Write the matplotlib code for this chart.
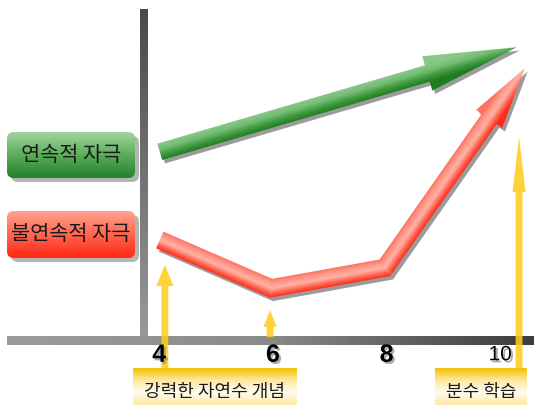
import numpy as np
import matplotlib.pyplot as plt
from matplotlib.patches import Polygon, FancyBboxPatch
from matplotlib.colors import LinearSegmentedColormap
import matplotlib.patheffects as pe

plt.rcParams['font.family'] = ['Noto Sans CJK KR', 'DejaVu Sans']

# ---- data ----
tick_vals = [4, 6, 8, 10]
tick_labels = ['4', '6', '8', '10']

green_x = [4.01, 10.29]
green_y = [3.31, 5.15]
green_label = '연속적 자극'

red_x = [4.01, 5.97, 7.97, 10.43]
red_y = [1.76, 0.91, 1.27, 4.78]
red_label = '불연속적 자극'

marker_x = [4.10, 5.95, 10.33]
marker_top = [1.32, 0.53, 3.57]
marker_bottom = [-0.53, 0.05, -0.53]

note_labels = ['강력한 자연수 개념', '분수 학습']

# ---- layout ----
S = 56.85  # px per unit
x_lo = 1.2
x_hi = x_lo + 534 / S
y_lo = -65 / S
y_hi = 340 / S

fig = plt.figure(figsize=(5.34, 4.05), dpi=100)
ax = fig.add_axes([0, 0, 1, 1])
ax.axis('off')


def grad_rect(x0, x1, y0, y1, colors, vertical=True, clip=None, z=1):
    g = np.linspace(0, 1, 256)
    img = g[:, None] if vertical else g[None, :]
    cmap = LinearSegmentedColormap.from_list('', colors)
    im = ax.imshow(img, cmap=cmap, extent=(x0, x1, y0, y1), origin='upper',
                   aspect='auto', zorder=z, interpolation='bilinear')
    if clip is not None:
        im.set_clip_path(clip)
    return im


def arrow_poly(xs, ys, w, hw, hl):
    P = np.column_stack([xs, ys]).astype(float)
    u = P[-1] - P[-2]
    u /= np.hypot(*u)
    B = P[-1] - hl * u
    C = np.vstack([P[:-1], B])
    segs = C[1:] - C[:-1]
    U = segs / np.hypot(segs[:, 0], segs[:, 1])[:, None]
    N = np.column_stack([-U[:, 1], U[:, 0]])
    left, right = [], []
    for i in range(len(C)):
        if i == 0:
            n = N[0]
        elif i == len(C) - 1:
            n = N[-1]
        else:
            m = N[i - 1] + N[i]
            m /= np.hypot(*m)
            n = m / np.dot(m, N[i])
        left.append(C[i] + w / 2 * n)
        right.append(C[i] - w / 2 * n)
    pts = left + [B + hw / 2 * N[-1], P[-1], B - hw / 2 * N[-1]] + right[::-1]
    return np.array(pts)


def thick_arrow(xs, ys, w, hw, hl, colors, z):
    pts = arrow_poly(xs, ys, w, hw, hl)
    shadow = Polygon(pts + np.array([0.05, -0.06]), closed=True,
                     fc='#8a8a8a', ec='none', alpha=0.85, zorder=z - 0.5)
    ax.add_patch(shadow)
    poly = Polygon(pts, closed=True, fc='none', ec='none', zorder=z)
    ax.add_patch(poly)
    xmin, ymin = pts.min(axis=0) - 0.05
    xmax, ymax = pts.max(axis=0) + 0.05
    gx = np.linspace(xmin, xmax, 500)
    gy = np.linspace(ymax, ymin, 400)
    X, Y = np.meshgrid(gx, gy)
    best = np.full(X.shape, np.inf)
    sd = np.zeros(X.shape)
    for a0, a1, b0, b1 in zip(xs[:-1], ys[:-1], xs[1:], ys[1:]):
        s0, s1 = b0 - a0, b1 - a1
        L2 = s0 * s0 + s1 * s1
        t = np.clip(((X - a0) * s0 + (Y - a1) * s1) / L2, 0, 1)
        d = np.hypot(X - (a0 + t * s0), Y - (a1 + t * s1))
        cr = (s0 * (Y - a1) - s1 * (X - a0)) / np.sqrt(L2)
        m = d < best
        best = np.where(m, d, best)
        sd = np.where(m, cr, sd)
    v = (np.clip(sd / (w / 2), -1, 1) + 1) / 2
    cmap = LinearSegmentedColormap.from_list('', colors)
    im = ax.imshow(v, cmap=cmap, vmin=0, vmax=1, extent=(xmin, xmax, ymin, ymax),
                   origin='upper', aspect='auto', zorder=z, interpolation='bilinear')
    im.set_clip_path(poly)


def label_box(x0, x1, y0, y1, colors, text, size, r=0.12, shadow=True, z=6):
    if shadow:
        sh = FancyBboxPatch((x0 + 0.07, y0 - 0.07), x1 - x0, y1 - y0,
                            boxstyle=f'round,pad=0,rounding_size={r}',
                            fc='#b4b4b4', ec='none', zorder=z - 0.5)
        ax.add_patch(sh)
    box = FancyBboxPatch((x0, y0), x1 - x0, y1 - y0,
                         boxstyle=f'round,pad=0,rounding_size={r}',
                         fc='none', ec='none', zorder=z)
    ax.add_patch(box)
    grad_rect(x0, x1, y0, y1, colors, clip=box, z=z)
    ax.text((x0 + x1) / 2, (y0 + y1) / 2, text, ha='center', va='center',
            fontsize=size, color='#1a1a1a', zorder=z + 1)


# axis bars
grad_rect(3.663, 3.803, 0.0, 5.82, ['#4a4a4a', '#9a9a9a'], z=1)
grad_rect(x_lo + 7 / S, x_hi, -0.088, 0.07, ['#9c9c9c', '#8a8a8a', '#3c3c3c'],
          vertical=False, z=1.5)

# yellow marker arrows
head_len = [0.37, 0.30, 0.97]
head_wid = [0.30, 0.23, 0.23]
for xm, yt, yb, hl, hw in zip(marker_x, marker_top, marker_bottom, head_len, head_wid):
    ax.arrow(xm, yb, 0, yt - yb, width=0.12, head_width=hw, head_length=hl,
             length_includes_head=True, fc='#ffcc1e', ec='none', alpha=0.88, zorder=2)

# main arrows
thick_arrow(green_x, green_y, 0.30, 0.63, 1.64,
            ['#1f7d1f', '#3f9a3f', '#74bc74', '#88c888'], z=4)
thick_arrow(red_x, red_y, 0.32, 0.56, 1.09,
            ['#ff2a18', '#ff6a58', '#ffb2a4', '#ff9a8a', '#ff7262'], z=4)

# legend boxes
label_box(x_lo + 7 / S, x_lo + 135 / S, (340 - 178) / S, (340 - 132) / S,
          ['#a2d6a0', '#5aae5a', '#24802a'], green_label, 15)
label_box(x_lo + 7 / S, x_lo + 135 / S, (340 - 258) / S, (340 - 211) / S,
          ['#ffa292', '#ff6650', '#ff2614'], red_label, 15)

# bottom notes
note_colors = ['#f4c000', '#fde8a0', '#fffbf0', '#ffe9a8', '#ffd060']
label_box(x_lo + 133 / S, x_lo + 297 / S, y_lo - 0.2, (340 - 368) / S,
          note_colors, note_labels[0], 13, r=0.0, shadow=False, z=5)
label_box(x_lo + 435 / S, x_lo + 527 / S, y_lo - 0.2, (340 - 368) / S,
          note_colors, note_labels[1], 13, r=0.0, shadow=False, z=5)

# tick labels
for v, lab in zip(tick_vals, tick_labels):
    if len(lab) > 1:
        size, weight = 15, 'normal'
    else:
        size, weight = 18, 'bold'
    ax.text(v, -0.26, lab, ha='center', va='center', fontsize=size,
            fontweight=weight, family=['Liberation Sans'], color='black', zorder=8,
            path_effects=[pe.SimplePatchShadow(offset=(1.5, -1.5), shadow_rgbFace='#888888', alpha=0.7),
                          pe.Normal()])

ax.set_xlim(x_lo, x_hi)
ax.set_ylim(y_lo, y_hi)
fig.savefig('out.png', dpi=100)
